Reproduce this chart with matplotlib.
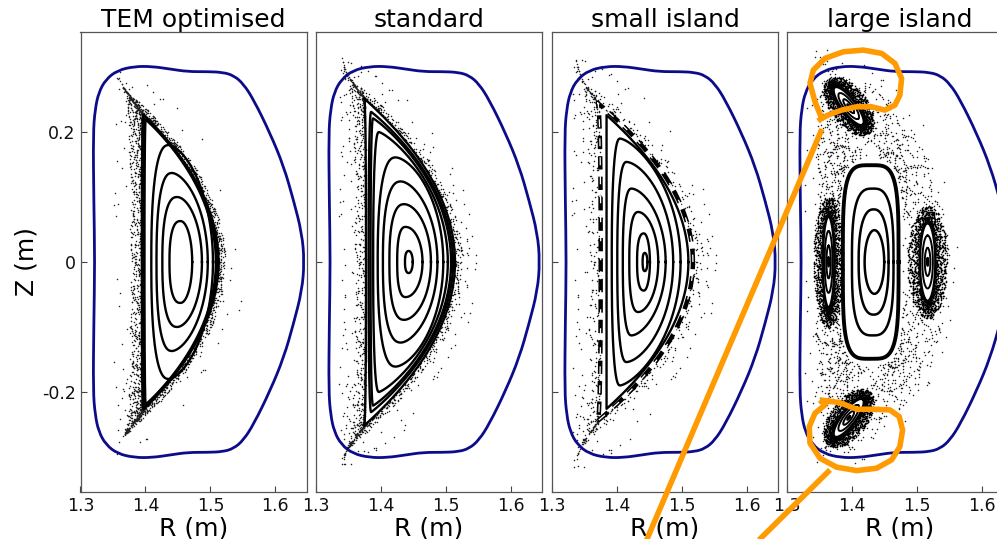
import numpy as np
import matplotlib
matplotlib.use("Agg")
import matplotlib.pyplot as plt
from matplotlib.path import Path
from matplotlib.patches import PathPatch

# ---------------- data ----------------
TITLES = ["TEM optimised", "standard", "small island", "large island"]
XTICKS = [1.3, 1.4, 1.5, 1.6]
XTICKLABELS = ["1.3", "1.4", "1.5", "1.6"]
YTICKS = [0.2, 0.0, -0.2]
YTICKLABELS = ["0.2", "0", "-0.2"]

# vessel boundary (upper half, mirrored below)
BOUND_R = [1.6446, 1.641, 1.628, 1.613, 1.592, 1.567, 1.551, 1.536, 1.519, 1.495,
           1.465, 1.438, 1.410, 1.383, 1.357, 1.339, 1.328, 1.3225, 1.3195, 1.3205, 1.322]
BOUND_Z = [0.000, 0.044, 0.095, 0.147, 0.198, 0.249, 0.274, 0.287, 0.292, 0.293,
           0.293, 0.297, 0.301, 0.301, 0.295, 0.281, 0.261, 0.235, 0.198, 0.095, 0.000]

# nested surfaces: left R, right R (at Z=0), top Z, R at top, right-side shape exponent
TEM_RL = [1.437, 1.426, 1.417, 1.409, 1.398, 1.395]
TEM_RR = [1.472, 1.487, 1.496, 1.504, 1.509, 1.512]
TEM_ZT = [0.063, 0.100, 0.137, 0.180, 0.220, 0.226]
TEM_RT = [1.454, 1.449, 1.441, 1.436, 1.400, 1.397]
TEM_S = [0.50, 0.55, 0.60, 0.62, 0.95, 1.00]

STD_RL = [1.437, 1.425, 1.413, 1.403, 1.395, 1.388, 1.384, 1.381, 1.377]
STD_RR = [1.449, 1.464, 1.477, 1.487, 1.496, 1.503, 1.508, 1.511, 1.514]
STD_ZT = [0.017, 0.054, 0.089, 0.124, 0.161, 0.200, 0.221, 0.231, 0.252]
STD_RT = [1.443, 1.438, 1.436, 1.431, 1.423, 1.397, 1.388, 1.385, 1.374]
STD_S = [0.50, 0.50, 0.55, 0.60, 0.62, 0.80, 0.90, 0.95, 1.00]

SMALL_RL = [1.4395, 1.431, 1.419, 1.409, 1.4005, 1.392, 1.384]
SMALL_RR = [1.447, 1.4508, 1.4636, 1.475, 1.4866, 1.498, 1.510]
SMALL_ZT = [0.014, 0.044, 0.077, 0.113, 0.154, 0.190, 0.226]
SMALL_RT = [1.443, 1.4415, 1.433, 1.4226, 1.415, 1.405, 1.384]
SMALL_S = [0.50, 0.50, 0.55, 0.60, 0.62, 0.70, 1.00]
SMALL_CHAIN = [1.375, 1.517, 0.245, 1.370, 1.0]

LARGE_RL = [1.4195, 1.4103, 1.400, 1.386]
LARGE_RR = [1.4497, 1.4564, 1.464, 1.4718]
LARGE_ZT = [0.049, 0.081, 0.113, 0.149]
LARGE_P = [2.0, 2.4, 3.0, 4.0]

ISL_R = [1.364, 1.5165, 1.395, 1.395]
ISL_Z = [0.0, 0.0, 0.240, -0.240]
ISL_A = [0.070, 0.060, 0.036, 0.036]
ISL_B = [0.009, 0.012, 0.011, 0.011]
ISL_ANG = [90.0, 90.0, -53.0, 53.0]

# stochastic layers: inner edge -> outer edge (RL, RR, ZT, RT, S)
TEM_LAYER = [[1.395, 1.512, 0.226, 1.397, 1.0], [1.377, 1.523, 0.270, 1.364, 1.0],
             [1.350, 1.555, 0.300, 1.350, 0.7]]
STD_LAYER = [[1.377, 1.514, 0.252, 1.374, 1.0], [1.360, 1.526, 0.290, 1.345, 1.0],
             [1.335, 1.548, 0.315, 1.340, 0.7]]
SMALL_LAYER = [[1.375, 1.517, 0.245, 1.370, 1.0], [1.357, 1.533, 0.285, 1.342, 1.0],
               [1.330, 1.555, 0.320, 1.335, 0.7]]
LARGE_SEA = [[1.343, 1.550, 0.300, 1.365, 0.6], [1.325, 1.575, 0.335, 1.340, 0.6]]

# orange annotation (data coordinates of the last panel)
OR_TOP_R = [1.3477, 1.3534, 1.3431, 1.3354, 1.3405, 1.3585, 1.3866, 1.4174, 1.4457, 1.4662,
            1.4765, 1.4738, 1.4662, 1.4508, 1.4303, 1.4072, 1.3842, 1.3635, 1.3534]
OR_TOP_Z = [0.2169, 0.2211, 0.2466, 0.2749, 0.2954, 0.3134, 0.3235, 0.3262, 0.3211, 0.3057,
            0.2826, 0.2569, 0.2415, 0.2338, 0.2389, 0.2389, 0.2338, 0.2262, 0.2211]
OR_BOT_R = [1.3508, 1.3815, 1.4072, 1.4328, 1.4585, 1.4728, 1.4780, 1.4738, 1.4611, 1.4380,
            1.4072, 1.3765, 1.3508, 1.3354, 1.3343, 1.3431, 1.3585]
OR_BOT_Z = [-0.2123, -0.2165, -0.2266, -0.2266, -0.2277, -0.2380, -0.2585, -0.2842, -0.3046, -0.3174,
            -0.3211, -0.3158, -0.3020, -0.2789, -0.2534, -0.2328, -0.2200]
OR_LINE1_R = [1.3538, 1.0744]
OR_LINE1_Z = [0.2046, -0.4500]
OR_LINE2_R = [1.3662, 1.2344]
OR_LINE2_Z = [-0.3200, -0.4500]

NAVY = "#0c0c8a"
ORANGE = "#ff9a00"
NTH = 720
TH = np.linspace(0, 2 * np.pi, NTH)
_P3 = 1.22074408460575947536
ALPHAS = [(1 / _P3, 1 / _P3 ** 2), (1 / _P3 ** 3, 1 / _P3), (1 / _P3 ** 2, 1 / _P3 ** 3),
          (0.6180339887, 0.7548776662)]


def dshape(p, pl=2.5):
    rl, rr, zt, rt, s = p
    c, sn = np.cos(TH), np.sin(TH)
    right = rt + (rr - rt) * np.abs(c) ** (2 * s)
    left = rt - (rt - rl) * (1 - np.abs(sn) ** pl) ** (1.0 / pl)
    return np.where(c >= 0, right, left), zt * sn


def superell(rl, rr, zt, p):
    r0 = 0.5 * (rl + rr)
    a = 0.5 * (rr - rl)
    c, s = np.cos(TH), np.sin(TH)
    return r0 + a * np.sign(c) * np.abs(c) ** (2.0 / p), zt * np.sign(s) * np.abs(s) ** (2.0 / p)


def rot_ell(rc, zc, A, B, ang):
    phi = np.deg2rad(ang)
    c, s = np.cos(TH), np.sin(TH)
    return (rc + A * c * np.cos(phi) - B * s * np.sin(phi),
            zc + A * c * np.sin(phi) + B * s * np.cos(phi))


def stipple(ax, cin, cout, npts, power=1.0, size=1.2, col="#222222", j0=0, z=2):
    """Fill the band between two curves with deterministic low-discrepancy dots
    (several interleaved lattices so that no single lattice pattern shows)."""
    ii = np.arange(NTH)
    for v, (a1, a2) in enumerate(ALPHAS):
        j = np.arange(j0 + 997 * v, j0 + 997 * v + npts // len(ALPHAS))
        t = ((0.5 + j * a1) % 1.0) ** power
        u = (0.13 * v + j * a2) % 1.0
        idx = u * (NTH - 1)
        rin, zin = np.interp(idx, ii, cin[0]), np.interp(idx, ii, cin[1])
        rout, zout = np.interp(idx, ii, cout[0]), np.interp(idx, ii, cout[1])
        ax.scatter(rin + t * (rout - rin), zin + t * (zout - zin), s=size, c=col,
                   linewidths=0, zorder=z)


def boundary(ax):
    R = list(BOUND_R) + list(BOUND_R[-2:0:-1])
    Z = list(BOUND_Z) + [-z for z in BOUND_Z[-2:0:-1]]
    P = np.column_stack([R, Z])
    n = len(P)
    mids = 0.5 * (P + np.roll(P, -1, axis=0))
    verts = [mids[-1]]
    codes = [Path.MOVETO]
    for i in range(n):
        verts += [P[i], mids[i]]
        codes += [Path.CURVE3, Path.CURVE3]
    ax.add_patch(PathPatch(Path(verts, codes), fill=False, ec=NAVY, lw=2.0, zorder=5))


fig = plt.figure(figsize=(9.97, 5.39), dpi=100)
lefts = [80.5, 316.0, 552.0, 787.0]
axes = [fig.add_axes([l / 997.0, 47.0 / 539.0, 226.0 / 997.0, 460.0 / 539.0]) for l in lefts]

for i, ax in enumerate(axes):
    ax.set_xlim(1.3, 1.648)
    ax.set_ylim(-0.354, 0.354)
    ax.set_xticks(XTICKS)
    ax.set_xticklabels(XTICKLABELS)
    ax.set_yticks(YTICKS)
    if i == 0:
        ax.set_yticklabels(YTICKLABELS)
        ax.set_ylabel("Z (m)", fontsize=18, labelpad=2)
    else:
        ax.set_yticklabels([])
    ax.tick_params(direction="in", length=4, width=0.8, colors="#444444",
                   labelcolor="#111111", labelsize=12.5)
    for sp in ax.spines.values():
        sp.set_color("#555555")
        sp.set_linewidth(0.9)
    ax.set_title(TITLES[i], fontsize=18, pad=3)
    ax.set_xlabel("R (m)", fontsize=18, labelpad=1)
    boundary(ax)

# ---- panel 1: TEM optimised ----
ax = axes[0]
stipple(ax, dshape(TEM_LAYER[0]), dshape(TEM_LAYER[1]), 2000, power=1.4)
stipple(ax, dshape(TEM_LAYER[1]), dshape(TEM_LAYER[2]), 80, j0=5000)
for k in range(len(TEM_RL)):
    R, Z = dshape([TEM_RL[k], TEM_RR[k], TEM_ZT[k], TEM_RT[k], TEM_S[k]])
    ax.plot(R, Z, color="k", lw=2.2 if k >= 4 else 1.7, zorder=3)

# ---- panel 2: standard ----
ax = axes[1]
stipple(ax, dshape(STD_LAYER[0]), dshape(STD_LAYER[1]), 1300, power=1.5)
stipple(ax, dshape(STD_LAYER[1]), dshape(STD_LAYER[2]), 200, j0=5000)
for k in range(len(STD_RL)):
    R, Z = dshape([STD_RL[k], STD_RR[k], STD_ZT[k], STD_RT[k], STD_S[k]])
    ax.plot(R, Z, color="k", lw=1.7, zorder=3)

# ---- panel 3: small island ----
ax = axes[2]
stipple(ax, dshape(SMALL_LAYER[0]), dshape(SMALL_LAYER[1]), 650, power=1.4)
stipple(ax, dshape(SMALL_LAYER[1]), dshape(SMALL_LAYER[2]), 170, j0=5000)
for k in range(len(SMALL_RL)):
    R, Z = dshape([SMALL_RL[k], SMALL_RR[k], SMALL_ZT[k], SMALL_RT[k], SMALL_S[k]])
    ax.plot(R, Z, color="k", lw=1.7, zorder=3)
R, Z = dshape(SMALL_CHAIN)
ax.plot(R, Z, color="k", lw=3.2, ls=(0, (3.0, 1.6)), zorder=3)
ax.plot(R, Z, color="white", lw=0.9, ls=(0.5, (6.4, 8.8)), zorder=3)

# ---- panel 4: large island ----
ax = axes[3]
core_out = superell(LARGE_RL[-1] - 0.006, LARGE_RR[-1] + 0.006, LARGE_ZT[-1] + 0.009, LARGE_P[-1])
stipple(ax, core_out, dshape(LARGE_SEA[0]), 1800, power=1.1)
stipple(ax, dshape(LARGE_SEA[0]), dshape(LARGE_SEA[1]), 70, j0=5000)
for k in range(len(ISL_R)):
    cin = rot_ell(ISL_R[k], ISL_Z[k], ISL_A[k], ISL_B[k], ISL_ANG[k])
    cout = rot_ell(ISL_R[k], ISL_Z[k], ISL_A[k] * 1.45, ISL_B[k] * 2.6, ISL_ANG[k])
    stipple(ax, cin, cout, 1600, power=1.6, size=1.4, col="#000000", j0=9000 + 1700 * k)
    ax.fill(cin[0], cin[1], color="white", zorder=3)
    for f in [1.0, 0.68, 0.36, 0.1]:
        R, Z = rot_ell(ISL_R[k], ISL_Z[k], ISL_A[k] * f, ISL_B[k] * f, ISL_ANG[k])
        ax.plot(R, Z, color="k", lw=1.8 if f == 1.0 else 1.4, zorder=4)
for k in range(len(LARGE_RL)):
    R, Z = superell(LARGE_RL[k], LARGE_RR[k], LARGE_ZT[k], LARGE_P[k])
    ax.plot(R, Z, color="k", lw=2.8 if k == len(LARGE_RL) - 1 else 1.8, zorder=4)

okw = dict(color=ORANGE, lw=4.0, clip_on=False, zorder=20, solid_capstyle="butt")
ax.plot(OR_TOP_R, OR_TOP_Z, **okw)
ax.plot(OR_BOT_R + OR_BOT_R[:1], OR_BOT_Z + OR_BOT_Z[:1], **okw)
ax.plot(OR_LINE1_R, OR_LINE1_Z, **okw)
ax.plot(OR_LINE2_R, OR_LINE2_Z, **okw)

fig.savefig("out.png", dpi=100)
